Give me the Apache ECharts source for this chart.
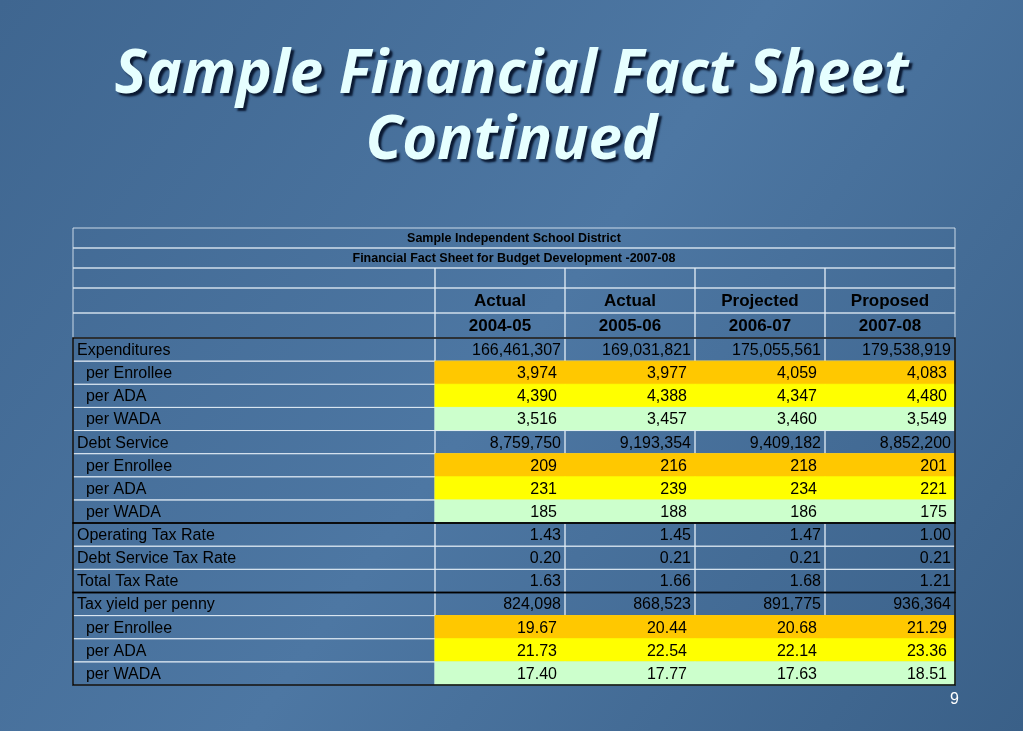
<!DOCTYPE html>
<html lang="en">
<head>
<meta charset="UTF-8">
<title>Sample Financial Fact Sheet</title>
<script src="https://cdn.jsdelivr.net/npm/echarts@6/dist/echarts.min.js"></script>
<style>
  html, body { margin: 0; padding: 0; }
  #main { width: 1023px; height: 731px; }
</style>
</head>
<body>
<div id="main"></div>
<script>
// table content
var tableTitle = ['Sample Independent School District', 'Financial Fact Sheet for Budget Development -2007-08'];
var headTop = ['Actual', 'Actual', 'Projected', 'Proposed'];
var headYears = ['2004-05', '2005-06', '2006-07', '2007-08'];
var rowLabels = ['Expenditures', '  per Enrollee', '  per ADA', '  per WADA',
  'Debt Service', '  per Enrollee', '  per ADA', '  per WADA',
  'Operating Tax Rate', 'Debt Service Tax Rate', 'Total Tax Rate',
  'Tax yield per penny', '  per Enrollee', '  per ADA', '  per WADA'];
var values2004 = ['166,461,307', '3,974', '4,390', '3,516', '8,759,750', '209', '231', '185', '1.43', '0.20', '1.63', '824,098', '19.67', '21.73', '17.40'];
var values2005 = ['169,031,821', '3,977', '4,388', '3,457', '9,193,354', '216', '239', '188', '1.45', '0.21', '1.66', '868,523', '20.44', '22.54', '17.77'];
var values2006 = ['175,055,561', '4,059', '4,347', '3,460', '9,409,182', '218', '234', '186', '1.47', '0.21', '1.68', '891,775', '20.68', '22.14', '17.63'];
var values2007 = ['179,538,919', '4,083', '4,480', '3,549', '8,852,200', '201', '221', '175', '1.00', '0.21', '1.21', '936,364', '21.29', '23.36', '18.51'];
// row kind: plain, enrollee, ada, wada
var rowKinds = ['plain', 'enrollee', 'ada', 'wada', 'plain', 'enrollee', 'ada', 'wada',
  'plain', 'plain', 'plain', 'plain', 'enrollee', 'ada', 'wada'];

var kindFill = { plain: null, enrollee: '#ffc800', ada: '#ffff00', wada: '#ccffcc' };
var colEdges = [0, 362, 492, 622, 752, 882];
var rowEdges = [0, 20, 40, 60, 85, 110];
for (var r = 1; r <= rowLabels.length; r++) rowEdges.push(110 + r * 23.13);

var valueCols = [values2004, values2005, values2006, values2007];
var cells = [];
// title rows span full width
tableTitle.forEach(function (t, i) { cells.push([0, 5, i, t, 'title', null]); });
cells.push([0, 1, 2, '', 'blank', null]);
for (var c = 0; c < 4; c++) cells.push([c + 1, c + 2, 2, '', 'blank', null]);
cells.push([0, 1, 3, '', 'blank', null]);
cells.push([0, 1, 4, '', 'blank', null]);
for (c = 0; c < 4; c++) {
  cells.push([c + 1, c + 2, 3, headTop[c], 'head', null]);
  cells.push([c + 1, c + 2, 4, headYears[c], 'head', null]);
}
rowLabels.forEach(function (lab, i) {
  var k = rowKinds[i];
  cells.push([0, 1, i + 5, lab, 'label', null]);
  for (var c = 0; c < 4; c++) cells.push([c + 1, c + 2, i + 5, valueCols[c][i], 'value', kindFill[k]]);
});

function renderCell(params, api) {
  var d = cells[params.dataIndex];
  var p0 = api.coord([colEdges[d[0]], rowEdges[d[2]]]);
  var p1 = api.coord([colEdges[d[1]], rowEdges[d[2] + 1]]);
  var w = p1[0] - p0[0], h = p1[1] - p0[1];
  var kids = [{
    type: 'rect',
    shape: { x: p0[0], y: p0[1], width: w, height: h },
    style: { fill: d[5] || 'rgba(0,0,0,0)', stroke: d[5] ? d[5] : 'rgba(225,235,245,0.85)', lineWidth: 1 }
  }];
  var font = '16px "Liberation Sans", Arial, sans-serif', x = p1[0] - 4, align = 'right';
  if (d[4] === 'title') { font = 'bold 12.5px "Liberation Sans", Arial, sans-serif'; x = p0[0] + w / 2; align = 'center'; }
  if (d[4] === 'head') { font = 'bold 17px "Liberation Sans", Arial, sans-serif'; x = p0[0] + w / 2; align = 'center'; }
  if (d[4] === 'label') { x = p0[0] + 4; align = 'left'; }
  if (d[4] === 'value' && d[5]) x = p1[0] - 8;
  if (d[3]) kids.push({
    type: 'text',
    style: { text: d[3], x: x, y: p0[1] + h / 2 + 1, align: align, verticalAlign: 'middle', font: font, fill: '#000' }
  });
  return { type: 'group', children: kids };
}

// black group borders (row edge indexes)
var groups = [[5, 13], [13, 16], [16, 20]];
function renderGroup(params, api) {
  var g = groups[params.dataIndex];
  var p0 = api.coord([0, rowEdges[g[0]]]);
  var p1 = api.coord([882, rowEdges[g[1]]]);
  return { type: 'rect', shape: { x: p0[0], y: p0[1], width: p1[0] - p0[0], height: p1[1] - p0[1] },
    style: { fill: 'none', stroke: '#000', lineWidth: 1.5 } };
}

var chart = echarts.init(document.getElementById('main'));
chart.setOption({
  animation: false,
  backgroundColor: new echarts.graphic.LinearGradient(0, 0, 1, 1, [
    { offset: 0, color: '#3f6690' }, { offset: 0.5, color: '#4d77a3' }, { offset: 1, color: '#3a6088' }]),
  title: {
    text: 'Sample Financial Fact Sheet\nContinued',
    left: 'center', top: 38,
    textStyle: {
      color: '#e6ffff', fontSize: 60, fontWeight: 'bold', fontStyle: 'italic', lineHeight: 66,
      fontFamily: '"Open Sans", "DejaVu Sans", sans-serif',
      textShadowColor: '#0b1a33', textShadowBlur: 2, textShadowOffsetX: 3, textShadowOffsetY: 3
    }
  },
  graphic: [{ type: 'text', left: 950, top: 692, style: { text: '9', fill: '#fff', font: '16px "Liberation Sans", Arial' } }],
  grid: { left: 73, top: 228, width: 882, height: 457 },
  xAxis: { type: 'value', min: 0, max: 882, show: false },
  yAxis: { type: 'value', min: 0, max: rowEdges[rowEdges.length - 1], inverse: true, show: false },
  series: [
    { type: 'custom', renderItem: renderCell, data: cells.map(function (d, i) { return [i]; }), silent: true },
    { type: 'custom', renderItem: renderGroup, data: groups.map(function (g, i) { return [i]; }), silent: true }
  ]
});
</script>
</body>
</html>
